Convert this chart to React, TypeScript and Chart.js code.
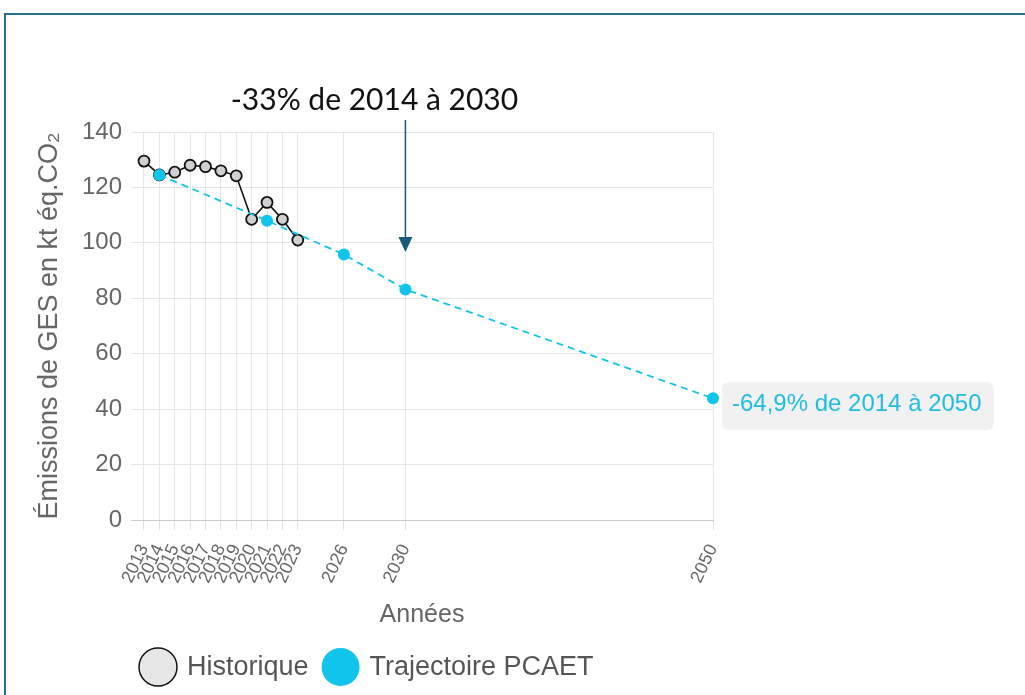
import React, { useEffect, useRef } from "react";
import { Chart, registerables } from "chart.js";

Chart.register(...registerables);

// ---- Data ----
const historiqueYears = [2013, 2014, 2015, 2016, 2017, 2018, 2019, 2020, 2021, 2022, 2023];
const historiqueValues = [129.5, 124.5, 125.5, 128, 127.5, 126, 124.2, 108.5, 114.6, 108.5, 101];
const trajectoireYears = [2014, 2021, 2026, 2030, 2050];
const trajectoireValues = [124.5, 108, 95.8, 83.2, 43.9];
const xTickYears = [2013, 2014, 2015, 2016, 2017, 2018, 2019, 2020, 2021, 2022, 2023, 2026, 2030, 2050];
const yTickValues = [0, 20, 40, 60, 80, 100, 120, 140];
const seriesNames = ["Historique", "Trajectoire PCAET"];
const xTitle = "Années";
const yTitle = "Émissions de GES en kt éq.CO₂";
const topAnnotation = "-33% de 2014 à 2030";
const topAnnotationYear = 2030;
const rightAnnotation = "-64,9% de 2014 à 2050";
const rightAnnotationYear = 2050;
const rightAnnotationValue = 43.9;

const HIST_COLOR = "#111111";
const HIST_FILL = "#d0d0d0";
const TRAJ_COLOR = "#10c4ec";
const FONT = "'Liberation Sans', Arial, sans-serif";

const overlayPlugin = {
  id: "overlay",
  beforeDraw(chart: any) {
    const ctx = chart.ctx;
    ctx.save();
    ctx.strokeStyle = "#2a6f8e";
    ctx.lineWidth = 2;
    ctx.strokeRect(5, 14, 1200, 900);
    ctx.restore();
  },
  afterDatasetsDraw(chart: any) {
    const ctx = chart.ctx;
    const xs = chart.scales.x;
    const ys = chart.scales.y;
    ctx.save();
    // top annotation text
    ctx.font = `30px Lato, ${FONT}`;
    ctx.fillStyle = "#111";
    ctx.textAlign = "center";
    ctx.textBaseline = "middle";
    const ax = xs.getPixelForValue(topAnnotationYear);
    ctx.fillText(topAnnotation, ax - 31, 100);
    // arrow
    ctx.strokeStyle = "#1c5a7b";
    ctx.fillStyle = "#1c5a7b";
    ctx.lineWidth = 1.5;
    ctx.beginPath();
    ctx.moveTo(ax, 120);
    ctx.lineTo(ax, 240);
    ctx.stroke();
    ctx.beginPath();
    ctx.moveTo(ax - 7, 237);
    ctx.lineTo(ax + 7, 237);
    ctx.lineTo(ax, 252);
    ctx.closePath();
    ctx.fill();

    // right label
    const rx = xs.getPixelForValue(rightAnnotationYear) + 9;
    const ry = ys.getPixelForValue(rightAnnotationValue) + 8;
    ctx.font = `24px ${FONT}`;
    const tw = ctx.measureText(rightAnnotation).width;
    const bw = tw + 22;
    const bh = 48;
    ctx.fillStyle = "#f1f1f1";
    ctx.beginPath();
    (ctx as any).roundRect(rx, ry - bh / 2, bw, bh, 6);
    ctx.fill();
    ctx.fillStyle = "#20bde2";
    ctx.textAlign = "left";
    ctx.textBaseline = "middle";
    ctx.fillText(rightAnnotation, rx + 10, ry - 2);
    ctx.restore();
  },
  afterDraw(chart: any) {
    const ctx = chart.ctx;
    ctx.save();
    const cy = 667;
    const r = 19;
    ctx.font = `27px ${FONT}`;
    ctx.textBaseline = "middle";
    ctx.textAlign = "left";
    let x = 139;
    const styles = [
      { fill: "#e6e6e6", stroke: "#111", lw: 1.5 },
      { fill: TRAJ_COLOR, stroke: null, lw: 0 },
    ];
    seriesNames.forEach((name, i) => {
      const s = styles[i];
      ctx.beginPath();
      ctx.arc(x + r, cy, r, 0, Math.PI * 2);
      ctx.fillStyle = s.fill;
      ctx.fill();
      if (s.stroke) {
        ctx.strokeStyle = s.stroke;
        ctx.lineWidth = s.lw;
        ctx.stroke();
      }
      x += 2 * r + 10;
      ctx.fillStyle = "#555";
      ctx.fillText(name, x, cy + 1);
      x += ctx.measureText(name).width + 13;
    });
    ctx.restore();
  },
};

export default function App() {
  const ref = useRef<HTMLCanvasElement | null>(null);
  useEffect(() => {
    if (!ref.current) return;
    Chart.defaults.font.family = FONT;
    const chart = new Chart(ref.current, {
      type: "line",
      data: {
        datasets: [
          {
            label: seriesNames[1],
            data: trajectoireYears.map((y, i) => ({ x: y, y: trajectoireValues[i] })),
            borderColor: TRAJ_COLOR,
            backgroundColor: TRAJ_COLOR,
            borderWidth: 1.8,
            borderDash: [7, 5],
            pointRadius: 6,
            pointBorderWidth: 0,
            pointBackgroundColor: TRAJ_COLOR,
            clip: false,
            order: 0,
          },
          {
            label: seriesNames[0],
            data: historiqueYears.map((y, i) => ({ x: y, y: historiqueValues[i] })),
            borderColor: HIST_COLOR,
            backgroundColor: HIST_FILL,
            borderWidth: 1.6,
            pointRadius: 5.5,
            pointBorderWidth: 1.8,
            pointBorderColor: HIST_COLOR,
            pointBackgroundColor: HIST_FILL,
            clip: false,
            order: 1,
          },
        ],
      },
      options: {
        responsive: false,
        animation: false,
        layout: { padding: { left: 0, top: 132, right: 312, bottom: 65 } },
        plugins: {
          legend: { display: false },
          tooltip: { enabled: false },
        },
        scales: {
          x: {
            type: "linear",
            min: 2012.155,
            max: 2050,
            afterBuildTicks: (scale: any) => {
              scale.ticks = xTickYears.map((v) => ({ value: v }));
            },
            afterFit: (scale: any) => {
              scale.height = 110;
            },
            ticks: {
              autoSkip: false,
              minRotation: 65,
              maxRotation: 65,
              padding: 11,
              color: "#666",
              font: { size: 18 },
              callback: (v: any) => String(v),
            },
            grid: { color: "#e6e6e6", lineWidth: 1, drawTicks: true, tickLength: 10, tickColor: "#e0e0e0" },
            border: { display: true, color: "#cccccc", width: 1 },
            title: {
              display: true,
              text: xTitle,
              color: "#666",
              font: { size: 25 },
              padding: { top: 0, bottom: 0 },
            },
          },
          y: {
            type: "linear",
            min: 0,
            max: 140,
            afterBuildTicks: (scale: any) => {
              scale.ticks = yTickValues.map((v) => ({ value: v }));
            },
            afterFit: (scale: any) => {
              scale.width = 131;
            },
            ticks: { padding: 9, color: "#666", font: { size: 24 } },
            grid: { color: "#e6e6e6", lineWidth: 1, drawTicks: false },
            border: { display: false },
            title: {
              display: true,
              text: yTitle,
              color: "#666",
              font: { size: 27 },
              padding: { top: 33, bottom: 0 },
            },
          },
        },
      },
      plugins: [overlayPlugin],
    } as any);
    return () => chart.destroy();
  }, []);
  return (
    <div style={{ position: "fixed", left: 0, top: 0, width: 1025, height: 695, background: "#fff" }}>
      <canvas ref={ref} width={1025} height={695} style={{ display: "block" }} />
    </div>
  );
}
